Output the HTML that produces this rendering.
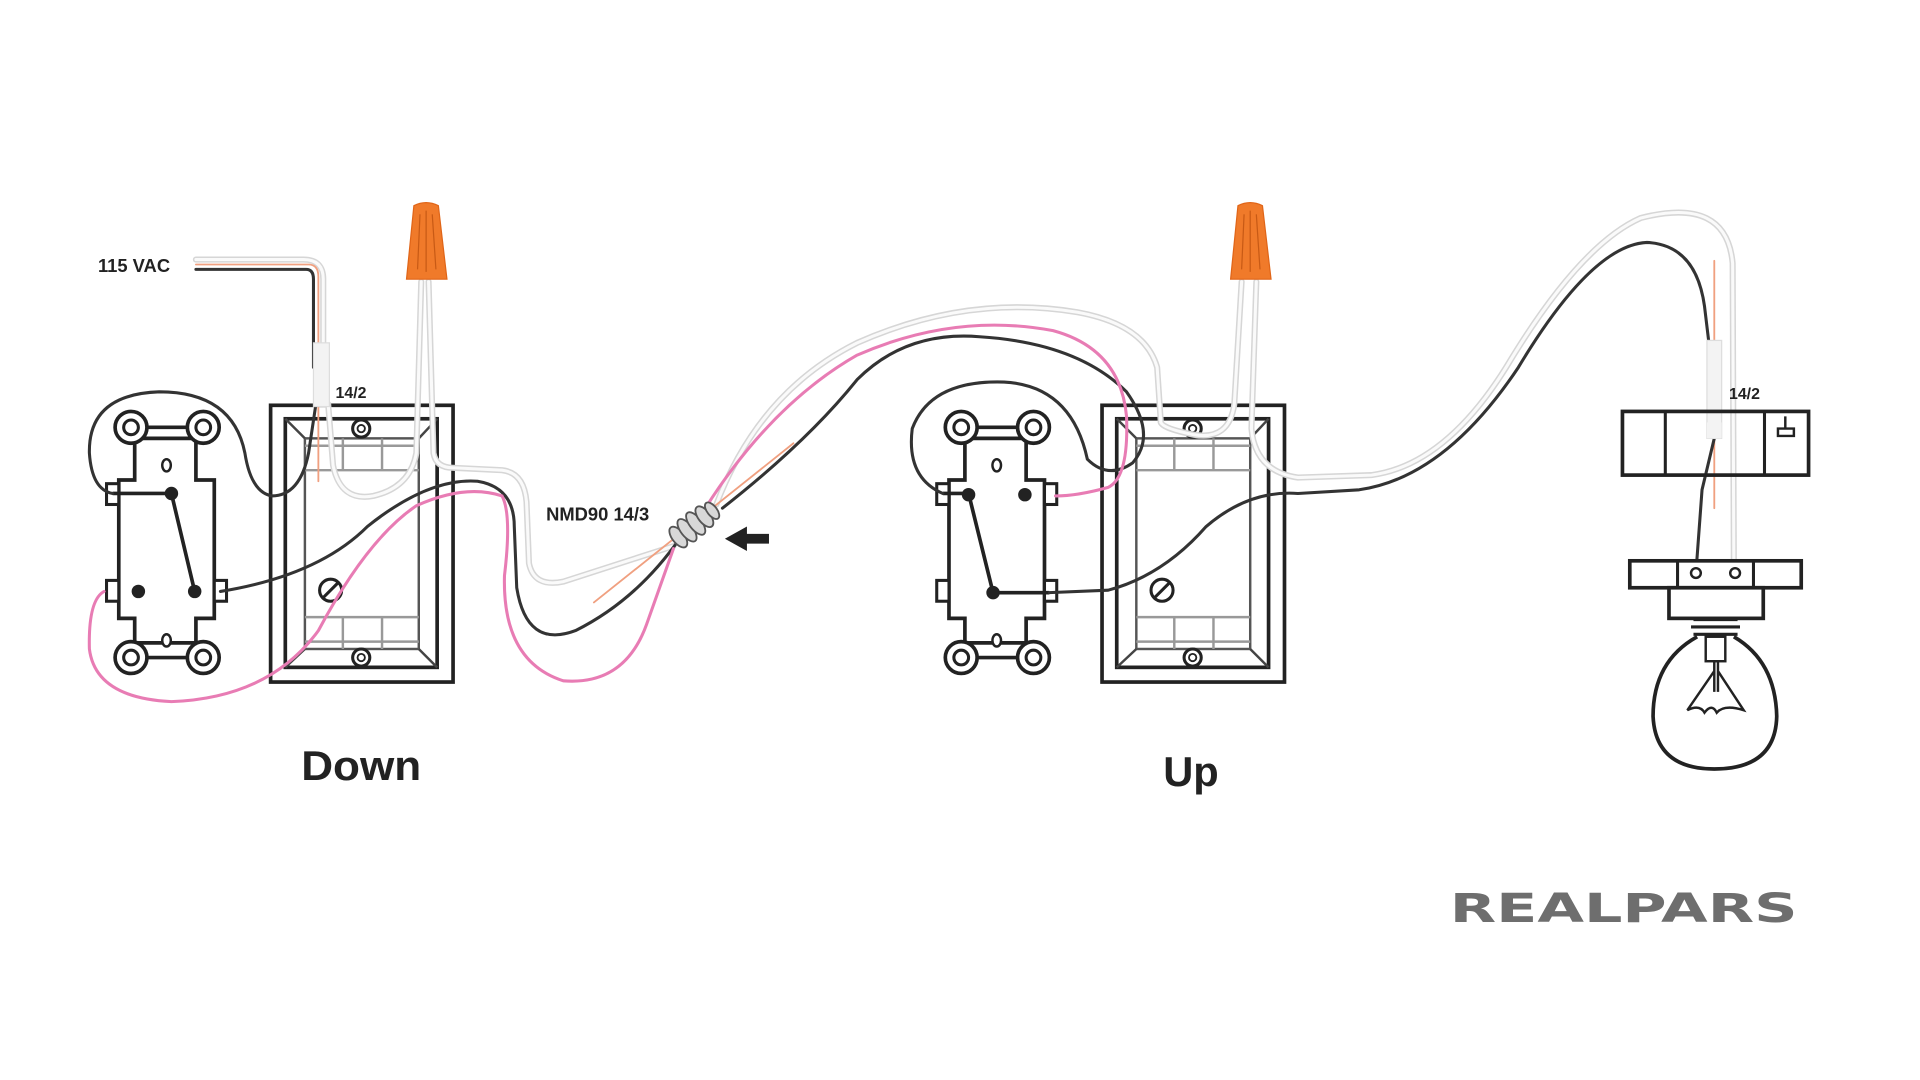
<!DOCTYPE html>
<html><head><meta charset="utf-8"><style>
html,body{margin:0;padding:0;background:#fff;}
svg{display:block;}
text{font-family:"Liberation Sans",sans-serif;font-weight:bold;fill:#222;}
</style></head><body>
<svg width="1920" height="1080" viewBox="0 0 1568 882" preserveAspectRatio="none" xmlns="http://www.w3.org/2000/svg">
<rect width="1568" height="882" fill="#fff"/>

<!-- Boxes -->
<g id="boxL">
  <rect x="221" y="331" width="149" height="226" fill="none" stroke="#222" stroke-width="3"/>
  <rect x="233" y="342" width="124" height="203" fill="none" stroke="#222" stroke-width="3"/>
  <rect x="249" y="358" width="93" height="172" fill="none" stroke="#555" stroke-width="2"/>
  <path d="M233 342 L249 358 M357 342 L342 358 M233 545 L249 530 M357 545 L342 530" stroke="#444" stroke-width="2"/>
  <path d="M249 364 H342 M249 384 H342 M280 358 V384 M312 358 V384 M249 504 H342 M249 524 H342 M280 504 V530 M312 504 V530" stroke="#999" stroke-width="2" fill="none"/>
  <circle cx="295" cy="350" r="7" fill="#fff" stroke="#222" stroke-width="2.5"/><circle cx="295" cy="350" r="3" fill="none" stroke="#222" stroke-width="1.5"/>
  <circle cx="295" cy="537" r="7" fill="#fff" stroke="#222" stroke-width="2.5"/><circle cx="295" cy="537" r="3" fill="none" stroke="#222" stroke-width="1.5"/>
  <circle cx="270" cy="482" r="9" fill="#fff" stroke="#222" stroke-width="2.5"/><path d="M264 488 L276 476" stroke="#222" stroke-width="2.5"/>
</g>
<use href="#boxL" transform="translate(679,0)"/>

<!-- Switch L -->
<g id="swL">
  <path d="M110 358 H160 V392 H175 V505 H160 V525 H110 V505 H97 V392 H110 Z" fill="#fff" stroke="#222" stroke-width="3"/>
  <rect x="87" y="395" width="10" height="17" fill="#fff" stroke="#222" stroke-width="2.5"/>
  <rect x="87" y="474" width="10" height="17" fill="#fff" stroke="#222" stroke-width="2.5"/>
  <rect x="175" y="474" width="10" height="17" fill="#fff" stroke="#222" stroke-width="2.5"/>
  <path d="M110 349 H160 M110 537 H160" stroke="#222" stroke-width="3"/>
  <g fill="#fff" stroke="#222">
    <circle cx="107" cy="349" r="13" stroke-width="3"/><circle cx="107" cy="349" r="6" stroke-width="2.5"/>
    <circle cx="166" cy="349" r="13" stroke-width="3"/><circle cx="166" cy="349" r="6" stroke-width="2.5"/>
    <circle cx="107" cy="537" r="13" stroke-width="3"/><circle cx="107" cy="537" r="6" stroke-width="2.5"/>
    <circle cx="166" cy="537" r="13" stroke-width="3"/><circle cx="166" cy="537" r="6" stroke-width="2.5"/>
    <ellipse cx="136" cy="380" rx="3.5" ry="5" stroke-width="2"/>
    <ellipse cx="136" cy="523" rx="3.5" ry="5" stroke-width="2"/>
  </g>
</g>
<path d="M92 403 H140 L159 483" stroke="#222" stroke-width="3" fill="none"/>
<circle cx="140" cy="403" r="5.5" fill="#222"/><circle cx="113" cy="483" r="5.5" fill="#222"/><circle cx="159" cy="483" r="5.5" fill="#222"/>

<!-- Switch R -->
<use href="#swL" transform="translate(678,0)"/>
<rect x="853" y="395" width="10" height="17" fill="#fff" stroke="#222" stroke-width="2.5"/>
<path d="M770 403 H791 L811 484 H857" stroke="#222" stroke-width="3" fill="none"/>
<circle cx="791" cy="404" r="5.5" fill="#222"/><circle cx="837" cy="404" r="5.5" fill="#222"/><circle cx="811" cy="484" r="5.5" fill="#222"/>

<!-- White wires -->
<g fill="none" stroke-linecap="round">
 <g stroke="#d6d6d6" stroke-width="5">
  <path d="M160 212 H248 Q264 212 264 228 V330"/>
  <path d="M268 330 L272 380 Q278 410 305 405 Q335 398 340 370 L344 230"/>
  <path d="M350 230 L354 370 Q356 382 370 382 L410 384 Q428 386 430 410 L432 460 Q436 480 460 475 L550 446"/>
  <path d="M585 412 Q620 320 700 280 Q790 240 880 255 Q935 265 945 300 L948 345"/>
  <path d="M1014 230 L1008 330 Q1004 360 975 355 Q950 350 948 345"/>
  <path d="M1026 230 L1022 350 Q1025 385 1060 390 L1120 388 Q1180 380 1230 300 Q1290 200 1340 178 Q1410 160 1415 215 L1416 468"/>
 </g>
 <g stroke="#fafafa" stroke-width="2.5">
  <path d="M160 212 H248 Q264 212 264 228 V330"/>
  <path d="M268 330 L272 380 Q278 410 305 405 Q335 398 340 370 L344 230"/>
  <path d="M350 230 L354 370 Q356 382 370 382 L410 384 Q428 386 430 410 L432 460 Q436 480 460 475 L550 446"/>
  <path d="M585 412 Q620 320 700 280 Q790 240 880 255 Q935 265 945 300 L948 345"/>
  <path d="M1014 230 L1008 330 Q1004 360 975 355 Q950 350 948 345"/>
  <path d="M1026 230 L1022 350 Q1025 385 1060 390 L1120 388 Q1180 380 1230 300 Q1290 200 1340 178 Q1410 160 1415 215 L1416 468"/>
 </g>
 <!-- copper -->
 <g stroke="#f0a080" stroke-width="1.5">
  <path d="M160 216 H252 Q260 216 260 226 V393"/>
  <path d="M485 492 L648 362"/>
  <path d="M1400 213 V415"/>
 </g>
 <!-- black -->
 <g stroke="#333" stroke-width="2.5">
  <path d="M160 220 H250 Q256 220 256 228 V300"/>
  <path d="M258 330 L252 370 Q245 405 222 405 Q205 402 200 370 Q190 320 130 320 Q72 322 73 370 Q75 400 92 403"/>
  <path d="M180 483 Q260 470 300 430 Q350 390 390 393 Q420 398 420 430 L422 480 Q430 530 470 515 Q520 490 555 440"/>
  <path d="M590 415 Q660 360 700 310 Q740 270 800 275 Q880 280 920 320 Q945 355 925 378 Q905 392 888 375 Q875 315 820 312 Q760 310 745 350 Q740 390 770 403"/>
  <path d="M857 484 L905 482 Q950 470 985 430 Q1020 400 1060 403 L1110 400 Q1180 390 1240 300 Q1300 200 1345 198 Q1385 200 1392 250 L1398 300"/>
  <path d="M1400 358 L1390 400 L1385 468"/>
 </g>
 <!-- pink -->
 <g stroke="#e87cb4" stroke-width="2.5">
  <path d="M85 483 Q72 490 73 530 Q78 570 140 573 Q220 570 260 515 Q300 440 340 413 Q380 395 410 405 Q418 420 412 470 Q410 540 460 556 Q510 560 528 510 L550 448"/>
  <path d="M576 415 Q630 330 700 290 Q780 255 860 270 Q915 285 920 340 Q922 390 905 398 Q880 405 862 405"/>
 </g>
</g>

<!-- sheaths -->
<rect x="256" y="280" width="13" height="52" fill="#f3f3f3" stroke="#ddd" stroke-width="1"/>
<rect x="1394" y="278" width="12" height="80" fill="#f3f3f3" stroke="#ddd" stroke-width="1"/>

<!-- wire nuts -->
<g id="nut">
  <path d="M338 168 Q348 163 358 168 L365 228 H332 Z" fill="#f07a2a" stroke="#e06518" stroke-width="1"/>
  <path d="M343 175 L341 220 M348 172 V222 M353 175 L356 220" stroke="#c85a15" stroke-width="1"/>
</g>
<use href="#nut" transform="translate(673,0)"/>

<!-- connector -->
<g transform="translate(565,430) rotate(-38)" fill="#d8d8d8" stroke="#555" stroke-width="1.5">
  <ellipse cx="-14" cy="0" rx="5" ry="10"/>
  <ellipse cx="-5" cy="0" rx="5" ry="11"/>
  <ellipse cx="4" cy="0" rx="5" ry="11"/>
  <ellipse cx="13" cy="0" rx="5" ry="10"/>
  <ellipse cx="21" cy="0" rx="4" ry="8"/>
</g>
<path d="M592 440 L610 430 V436 H628 V444 H610 V450 Z" fill="#222"/>

<!-- fixture box -->
<rect x="1325" y="336" width="152" height="52" fill="none" stroke="#222" stroke-width="3"/>
<path d="M1360 336 V388 M1441 336 V388" stroke="#222" stroke-width="2.5"/>
<path d="M1458 340 V350 M1452 350 H1465 V356 H1452 Z" stroke="#222" stroke-width="2" fill="none"/>
<rect x="1394" y="345" width="12" height="13" fill="#f3f3f3"/>

<!-- lamp -->
<rect x="1331" y="458" width="140" height="22" fill="#fff" stroke="#222" stroke-width="3"/>
<path d="M1370 458 V480 M1432 458 V480" stroke="#222" stroke-width="2.5"/>
<circle cx="1385" cy="468" r="4" fill="none" stroke="#222" stroke-width="2"/>
<circle cx="1417" cy="468" r="4" fill="none" stroke="#222" stroke-width="2"/>
<rect x="1363" y="480" width="77" height="25" fill="#fff" stroke="#222" stroke-width="3"/>
<path d="M1383 506 H1419 M1381 512 H1421 M1383 518 H1419" stroke="#222" stroke-width="2.5"/>
<path d="M1386 520 Q1350 540 1350 585 Q1352 628 1400 628 Q1450 628 1451 585 Q1450 540 1416 520" fill="none" stroke="#222" stroke-width="3"/>
<rect x="1393" y="520" width="16" height="20" fill="none" stroke="#222" stroke-width="2"/>
<path d="M1400 540 V565 M1403 540 V565 M1400 548 L1378 580 Q1388 575 1392 582 Q1398 574 1402 582 Q1408 575 1424 580 L1403 548" fill="none" stroke="#222" stroke-width="2"/>

<!-- labels -->
<text x="80" y="222" font-size="15">115 VAC</text>
<text x="274" y="325" font-size="13">14/2</text>
<text x="1412" y="326" font-size="13">14/2</text>
<text x="446" y="425" font-size="15">NMD90 14/3</text>
<text x="246" y="637" font-size="34" textLength="98" lengthAdjust="spacingAndGlyphs">Down</text>
<text x="950" y="642" font-size="34">Up</text>
<text x="1184" y="753" font-size="33" textLength="284" lengthAdjust="spacingAndGlyphs" style="fill:#6e6e6e;font-family:'DejaVu Sans','Liberation Sans',sans-serif;">REALPARS</text>
</svg>
</body></html>
